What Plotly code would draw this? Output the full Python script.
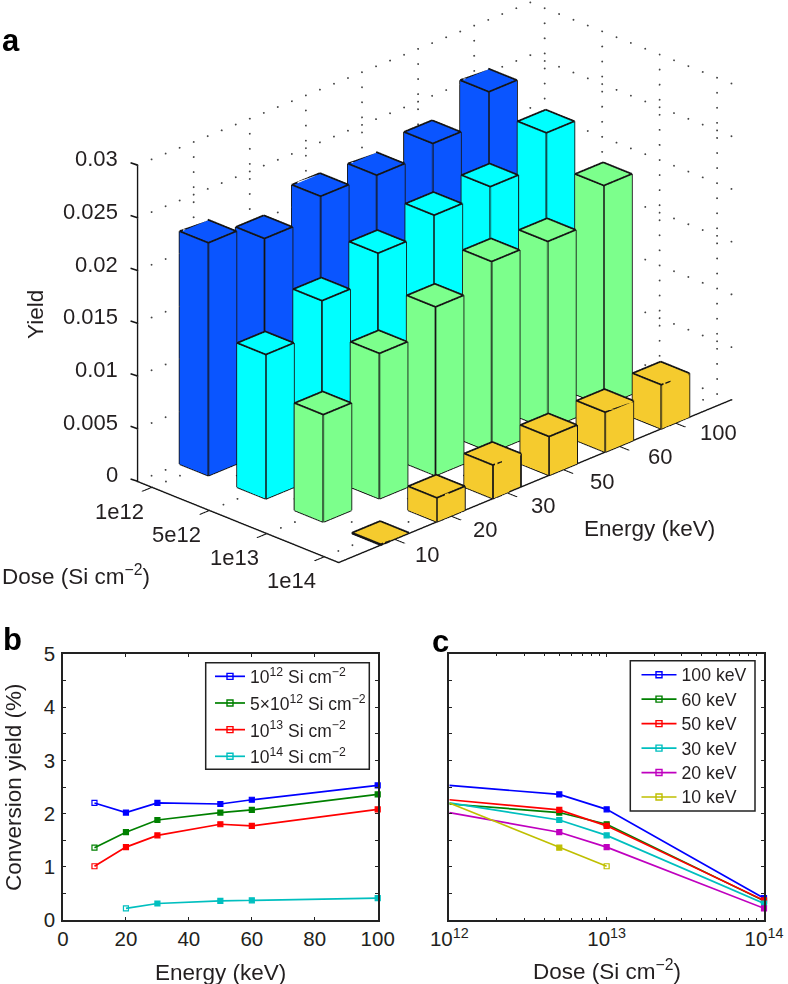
import math
import plotly.graph_objects as go

energy = [10, 20, 30, 50, 60, 100]
energy_labels = ["10", "20", "30", "50", "60", "100"]
energy_pos = [1, 2, 3, 4, 5, 6]
dose_labels = ["1e12", "5e12", "1e13", "1e14"]
dose_pos = [4, 3, 2, 1]
dose_values = [1e12, 5e12, 1e13, 1e14]

y_1e12 = [2.20, 2.02, 2.20, 2.18, 2.26, 2.53]
y_5e12 = [1.36, 1.65, 1.88, 2.02, 2.07, 2.36]
y_1e13 = [1.01, 1.37, 1.59, 1.80, 1.77, 2.08]
y_1e14 = [None, 0.22, 0.31, 0.36, 0.37, 0.41]

c_100 = [2.53, 2.36, 2.08, 0.41]
c_60 = [2.18, 2.02, 1.80, 0.36]
c_50 = [2.26, 2.07, 1.77, 0.37]
c_30 = [2.20, 1.88, 1.59, 0.31]
c_20 = [2.02, 1.65, 1.37, 0.22]
c_10 = [2.20, 1.36, 1.01, None]

bar_colors = ["#0A55FF", "#00FFFF", "#7CFF8C", "#F5CB2E"]
TXT = "#231f20"
FONT = "Liberation Sans"
W, H = 788, 984

fig = go.Figure()

# ---------- panel a: real 3D scene ----------
half = 0.25
lift = 0.00008  # keeps the outline just above the top face so the depth test cannot swallow it
def bar_mesh(values, pos, color):
    xs, ys, zs, i, j, k, ex, ey, ez = [], [], [], [], [], [], [], [], []
    for e, v in zip(energy_pos, values):
        h = (v or 0) / 100
        n = len(xs)
        x0, x1, y0, y1 = e - half, e + half, pos - half, pos + half
        xs += [x0, x1, x1, x0, x0, x1, x1, x0]
        ys += [y0, y0, y1, y1, y0, y0, y1, y1]
        zs += [0, 0, 0, 0, h, h, h, h]
        for a, b, c in [(0,1,2),(0,2,3),(4,5,6),(4,6,7),(0,1,5),(0,5,4),(1,2,6),(1,6,5),(2,3,7),(2,7,6),(3,0,4),(3,4,7)]:
            i.append(n + a); j.append(n + b); k.append(n + c)
        # only the edges seen from this camera: the back corner (vertices 2 and 6) stays hidden
        for a, b in [(4,5),(5,6),(6,7),(7,4),(0,1),(3,0),(0,4),(1,5),(3,7)]:
            ex += [xs[n + a], xs[n + b], None]
            ey += [ys[n + a], ys[n + b], None]
            ez += [zs[n + a] + (lift if a >= 4 else 0), zs[n + b] + (lift if b >= 4 else 0), None]
    fig.add_trace(go.Mesh3d(x=xs, y=ys, z=zs, i=i, j=j, k=k, color=color, flatshading=True,
                            lighting=dict(ambient=1, diffuse=0, specular=0, fresnel=0, roughness=1),
                            hoverinfo="skip", showlegend=False, scene="scene"))
    fig.add_trace(go.Scatter3d(x=ex, y=ey, z=ez, mode="lines", line=dict(color="#151515", width=3.5),
                               hoverinfo="skip", showlegend=False, scene="scene"))

for vals, pos, col in zip([y_1e12, y_5e12, y_1e13, y_1e14], dose_pos, bar_colors):
    bar_mesh(vals, pos, col)

# dotted guide lines on floor and back walls
X0, X1, Y0, Y1, Z1 = 0.0, 7.0, 0.75, 4.25, 0.03
z_ticks = [0, 0.005, 0.01, 0.015, 0.02, 0.025, 0.03]
z_labels = ["0", "0.005", "0.01", "0.015", "0.02", "0.025", "0.03"]
gx, gy, gz = [], [], []
def under_bar(x, y, z):
    return z == 0 and any(abs(x - e) <= half + 0.02 and abs(y - d) <= half + 0.02 for e in energy_pos for d in dose_pos)
def seg(p, q):
    dist = max(abs(q[n] - p[n]) / s for n, s in enumerate((0.245, 0.245, 0.00142)))
    n = max(1, int(dist))
    for t in range(n + 1):
        f = t / n
        pt = [p[m] + (q[m] - p[m]) * f for m in range(3)]
        if not under_bar(*pt):
            gx.append(pt[0]); gy.append(pt[1]); gz.append(pt[2])
for z in z_ticks:
    seg((X0, Y1, z), (X1, Y1, z))
    seg((X1, Y0, z), (X1, Y1, z))
for e in energy_pos:
    seg((e, Y1, 0), (e, Y1, Z1))
    seg((e, Y0, 0), (e, Y1, 0))
for d in dose_pos:
    seg((X1, d, 0), (X1, d, Z1))
    seg((X0, d, 0), (X1, d, 0))
fig.add_trace(go.Scatter3d(x=gx, y=gy, z=gz, mode="markers",
                           marker=dict(size=1.1, color="#444444", line=dict(width=0)),
                           hoverinfo="skip", showlegend=False, scene="scene"))

theta = math.asin(0.4087)
phi = math.radians(44.6)
D = 2.489
dirn = (-math.cos(theta)*math.cos(phi), -math.cos(theta)*math.sin(phi), math.sin(theta))

axis3d = dict(showbackground=False, showgrid=False, zeroline=False, showspikes=False, showline=True,
              linecolor="#151515", linewidth=3, ticks="outside", ticklen=14, tickcolor="#151515", tickwidth=3,
              showticklabels=False, title=dict(text=""), tickmode="array")

afont = dict(family=FONT, size=22, color=TXT)
scene_notes = []
for z, t in zip(z_ticks, z_labels):
    scene_notes.append(dict(x=X0, y=Y1, z=z, text=t, showarrow=False, xanchor="right", yanchor="middle",
                            xshift=-18, yshift=6.5, font=afont))
    scene_notes.append(dict(x=X0, y=Y1, z=z, text=" ", showarrow=True, arrowhead=0, arrowwidth=1.6, arrowcolor="#151515",
                            ax=-10, ay=-3.3, standoff=0, startstandoff=0))
for i, (e, t) in enumerate(zip(energy_pos, energy_labels)):
    scene_notes.append(dict(x=e, y=Y0, z=0, text=t, showarrow=False, xanchor="center", yanchor="middle",
                            xshift=32 + 2.2 * i, yshift=-15 + 1.1 * i, font=afont))
for d, t in zip(dose_pos, dose_labels):
    scene_notes.append(dict(x=X0, y=d, z=0, text=t, showarrow=False, xanchor="center", yanchor="middle",
                            xshift=-32.5, yshift=-24, font=afont))

fig.update_layout(
    width=W, height=H, margin=dict(l=0, r=0, t=0, b=0, autoexpand=False), paper_bgcolor="white", plot_bgcolor="white",
    scene=dict(
        domain=dict(x=[81 / W, 1], y=[1 - 564.8 / H, 1]),
        xaxis=dict(axis3d, range=[X0, X1], tickvals=energy_pos),
        yaxis=dict(axis3d, range=[Y0, Y1], tickvals=dose_pos),
        zaxis=dict(axis3d, range=[0, Z1], tickvals=z_ticks, ticks=""),
        aspectmode="manual", aspectratio=dict(x=1.98, y=1.0, z=1.227),
        camera=dict(projection=dict(type="orthographic"), up=dict(x=0, y=0, z=1),
                    center=dict(x=0, y=0, z=0), eye=dict(x=dirn[0]*D, y=dirn[1]*D, z=dirn[2]*D)),
        annotations=scene_notes,
    ),
)

# ---------- panels b, c ----------
def add_series(x, vals, name, c, xa, ya, leg, hollow, size):
    sym = ["square-open" if n == hollow else "square" for n in range(len(x))]
    fig.add_trace(go.Scatter(x=x, y=vals, mode="lines+markers", xaxis=xa, yaxis=ya, showlegend=False,
                             line=dict(color=c, width=1.7), cliponaxis=False,
                             marker=dict(symbol=sym, size=5, color=c, line=dict(width=1.2, color=c))))
    fig.add_trace(go.Scatter(x=[None], y=[None], mode="lines+markers", xaxis=xa, yaxis=ya, legend=leg,
                             name=f'<span style="font-size:{size}px">{name}</span>',
                             line=dict(color=c, width=1.7),
                             marker=dict(symbol="square-open", size=6, color=c, line=dict(width=1.4, color=c))))

b_series = [("10<sup>12</sup> Si cm<sup>−2</sup>", y_1e12, "#0000FF", 0),
            ("5×10<sup>12</sup> Si cm<sup>−2</sup>", y_5e12, "#008000", 0),
            ("10<sup>13</sup> Si cm<sup>−2</sup>", y_1e13, "#FF0000", 0),
            ("10<sup>14</sup> Si cm<sup>−2</sup>", y_1e14, "#00BFBF", 1)]
for name, vals, c, hollow in b_series:
    add_series(energy, vals, name, c, "x", "y", "legend", hollow, 17.5)
c_series = [("100 keV", c_100, "#0000FF", None), ("60 keV", c_60, "#008000", None), ("50 keV", c_50, "#FF0000", None),
            ("30 keV", c_30, "#00BFBF", None), ("20 keV", c_20, "#BF00BF", None), ("10 keV", c_10, "#BFBF00", 2)]
for name, vals, c, hollow in c_series:
    add_series(dose_values, vals, name, c, "x2", "y2", "legend2", hollow, 17.7)

frame = dict(showline=True, linecolor="#222222", linewidth=1.6, mirror="allticks", ticks="inside", ticklen=3,
             tickcolor="#222222", tickwidth=1, showgrid=False, zeroline=False,
             tickfont=dict(family=FONT, size=20.5, color=TXT))
y_ticks = [0, 0.5, 1, 1.5, 2, 2.5, 3, 3.5, 4, 4.5, 5]
y_text = ["0", "", "1", "", "2", "", "3", "", "4", "", "5"]
ydom = [1 - 920 / H, 1 - 654 / H]
fig.update_layout(
    xaxis=dict(frame, domain=[63 / W, 377.7 / W], range=[0, 100], tickvals=[0, 20, 40, 60, 80, 100], anchor="y"),
    yaxis=dict(frame, domain=ydom, range=[0, 5], tickvals=y_ticks, ticktext=y_text, anchor="x", ticklabelstandoff=2),
    xaxis2=dict(frame, domain=[449.3 / W, 764 / W], type="log", range=[12, 14], anchor="y2",
                tickvals=[1e12, 1e13, 1e14], ticktext=["10<sup>12</sup>", "10<sup>13</sup>", "10<sup>14</sup>"],
                minor=dict(ticks="inside", ticklen=2, tickcolor="#222222", tickwidth=1,
                           tickvals=[m * 10**p for p in (12, 13) for m in range(2, 10)])),
    yaxis2=dict(frame, domain=ydom, range=[0, 5], tickvals=y_ticks, showticklabels=False, anchor="x2"),
    legend=dict(x=210 / W, y=1 - 658 / H, xanchor="left", yanchor="top", bgcolor="rgba(0,0,0,0)",
                borderwidth=0, font=dict(family=FONT, size=18.2, color=TXT), itemwidth=30),
    legend2=dict(x=636.5 / W, y=1 - 657.5 / H, xanchor="left", yanchor="top", bgcolor="rgba(0,0,0,0)",
                 borderwidth=0, font=dict(family=FONT, size=16.5, color=TXT), itemwidth=35),
    shapes=[dict(type="rect", xref="paper", yref="paper", x0=205.7 / W, x1=369.3 / W, y0=1 - 769.3 / H, y1=1 - 662.7 / H,
                 line=dict(color="#222222", width=1.5)),
            dict(type="rect", xref="paper", yref="paper", x0=630.3 / W, x1=755 / W, y0=1 - 811 / H, y1=1 - 660.7 / H,
                 line=dict(color="#222222", width=1.5))],
)

def note(text, x, y, size=22.5, angle=0, bold=False, anchor="center"):
    fig.add_annotation(text=f"<b>{text}</b>" if bold else text, x=x / W, y=1 - y / H, xref="paper", yref="paper",
                       showarrow=False, xanchor=anchor, yanchor="middle", textangle=angle,
                       font=dict(family=FONT, size=size, color="#000000" if bold else TXT))
note("a", 0, 41, 31, bold=True, anchor="left")
note("b", 1, 639, 31, bold=True, anchor="left")
note("c", 430, 641, 31, bold=True, anchor="left")
note("Yield", 36, 315, angle=-90)
note("Dose (Si cm<sup>−2</sup>)", 76, 575)
note("Energy (keV)", 649, 528)
note("Conversion yield (%)", 13, 787, angle=-90)
note("Energy (keV)", 220, 972)
note("Dose (Si cm<sup>−2</sup>)", 607, 970)

fig.write_html("out.html", config={"displayModeBar": False},
               post_script="document.body.style.margin='0';document.body.style.overflow='hidden';")
